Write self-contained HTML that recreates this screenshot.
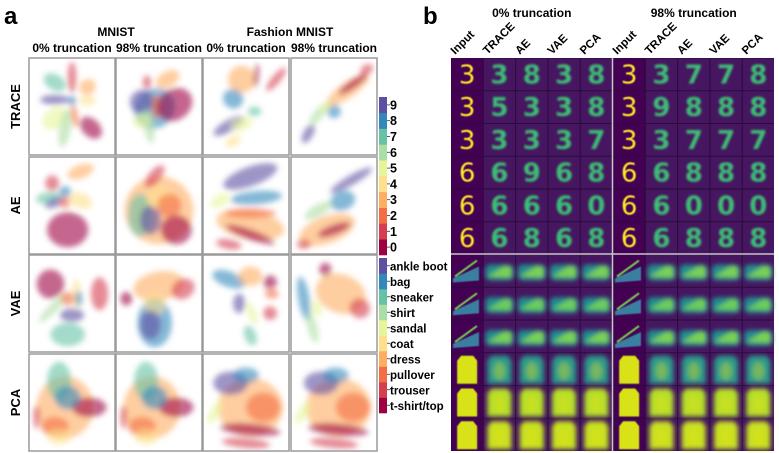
<!DOCTYPE html>
<html><head><meta charset="utf-8"><style>
html,body{margin:0;padding:0;background:#fff;}
svg{display:block;font-family:"Liberation Sans",Arial,sans-serif;}
</style></head><body>
<svg id="fig" width="779" height="453" viewBox="0 0 779 453">
<defs>
<filter id="bl" x="-50%" y="-50%" width="200%" height="200%"><feGaussianBlur stdDeviation="3"/></filter>
<filter id="bl2" x="-50%" y="-50%" width="200%" height="200%"><feGaussianBlur stdDeviation="1.1"/></filter>
<filter id="bl3" x="-50%" y="-50%" width="200%" height="200%"><feGaussianBlur stdDeviation="2.5"/></filter>
<filter id="bl1" x="-50%" y="-50%" width="200%" height="200%"><feGaussianBlur stdDeviation="0.4"/></filter>
</defs>
<text x="4" y="24" font-size="24" font-weight="bold">a</text>
<text x="423" y="24" font-size="24" font-weight="bold">b</text>
<text x="116" y="36" font-size="12" font-weight="bold" text-anchor="middle">MNIST</text>
<text x="290" y="36" font-size="12" font-weight="bold" text-anchor="middle">Fashion MNIST</text>
<g id="panelA"></g>
<g id="panelB"></g>
</svg>
<script>
const NS='http://www.w3.org/2000/svg';
const spectral=['#9e0142','#d53e4f','#f46d43','#fdae61','#fee08b','#e6f598','#abdda4','#66c2a5','#3288bd','#5e4fa2'];
const colHeaders=['0% truncation','98% truncation','0% truncation','98% truncation'];
const rowHeaders=['TRACE','AE','VAE','PCA'];
const digitLabels=['0','1','2','3','4','5','6','7','8','9'];
const fashionLabels=['t-shirt/top','trouser','pullover','dress','coat','sandal','shirt','sneaker','bag','ankle boot'];
// clusters per panel: [cx, cy, rx, ry, angleDeg, classIndex] in normalized cell units
const clustersTRACE=[
 [[.3,.25,.14,.08,30,7],[.3,.62,.16,.1,-40,5],[.42,.72,.07,.2,10,6],[.68,.3,.1,.08,-30,3],[.68,.44,.1,.05,0,4],[.3,.43,.17,.05,0,9],[.5,.2,.05,.16,0,1],[.53,.6,.04,.12,-10,2],[.72,.72,.15,.09,45,0],[.5,.44,.05,.05,0,8]],
 [[.45,.52,.25,.2,-35,8],[.3,.45,.14,.12,-30,9],[.38,.7,.06,.18,-10,6],[.3,.65,.1,.08,0,5],[.6,.22,.15,.08,-30,3],[.36,.25,.05,.07,0,1],[.47,.5,.06,.12,0,2],[.68,.48,.22,.16,-35,0]],
 [[.45,.22,.16,.14,0,3],[.62,.18,.03,.12,5,0],[.85,.22,.05,.15,40,1],[.35,.42,.12,.1,30,8],[.6,.55,.08,.05,0,7],[.3,.7,.2,.06,-30,9],[.45,.68,.13,.07,-20,5],[.35,.86,.1,.05,-30,4]],
 [[.66,.33,.3,.08,-35,3],[.72,.27,.2,.04,-35,0],[.88,.12,.08,.05,-35,1],[.5,.55,.08,.07,0,8],[.32,.58,.15,.05,-50,6],[.2,.78,.12,.05,-60,9],[.4,.5,.08,.04,-40,5]]
];
const clustersAE=[
 [[.27,.27,.08,.08,0,1],[.6,.15,.16,.07,-20,3],[.22,.42,.14,.06,-10,7],[.3,.47,.12,.05,-20,9],[.42,.36,.07,.06,0,8],[.42,.47,.06,.06,0,2],[.6,.45,.14,.08,20,4],[.45,.75,.24,.18,0,0]],
 [[.5,.55,.4,.35,0,3],[.28,.6,.14,.22,0,7],[.4,.65,.12,.15,0,9],[.5,.42,.15,.12,0,4],[.7,.75,.18,.15,0,0],[.45,.2,.07,.14,40,1],[.62,.5,.14,.12,0,2]],
 [[.55,.2,.33,.1,-20,9],[.2,.45,.12,.06,-30,5],[.62,.42,.3,.07,-5,8],[.55,.7,.4,.15,10,3],[.55,.8,.3,.05,20,0],[.3,.9,.15,.05,10,1],[.55,.58,.3,.05,0,2]],
 [[.7,.24,.28,.05,-30,9],[.6,.45,.15,.1,-20,8],[.32,.55,.18,.06,-30,6],[.42,.75,.34,.14,-20,3],[.15,.9,.08,.05,0,1],[.5,.75,.2,.05,-20,0]]
];
const clustersVAE=[
 [[.25,.3,.16,.15,0,0],[.82,.4,.1,.17,0,1],[.28,.55,.05,.2,45,6],[.55,.4,.05,.15,0,4],[.45,.45,.08,.07,0,2],[.58,.45,.04,.08,0,8],[.5,.62,.14,.07,0,9],[.45,.82,.2,.12,0,7]],
 [[.5,.32,.3,.15,-10,3],[.78,.35,.14,.1,-30,1],[.12,.45,.07,.07,0,0],[.45,.7,.2,.25,0,8],[.45,.5,.12,.12,0,4],[.4,.72,.12,.15,0,9]],
 [[.3,.25,.2,.08,20,8],[.55,.22,.14,.1,0,3],[.78,.28,.08,.07,0,0],[.8,.4,.08,.05,0,2],[.78,.6,.08,.07,30,1],[.42,.5,.07,.1,0,9],[.57,.6,.05,.12,-20,5],[.55,.83,.12,.06,70,7]],
 [[.15,.45,.26,.06,80,8],[.4,.15,.07,.07,0,0],[.58,.4,.3,.2,20,3],[.8,.55,.12,.1,20,1],[.25,.75,.18,.05,75,6],[.3,.55,.1,.05,70,5]]
];
const clustersPCA=[
 [[.42,.55,.33,.32,0,3],[.35,.28,.14,.2,0,7],[.7,.55,.2,.1,0,0],[.09,.65,.04,.12,0,1],[.3,.75,.16,.1,0,2],[.35,.85,.14,.08,0,4],[.45,.45,.15,.12,0,8]],
 [[.42,.55,.33,.32,0,3],[.35,.28,.14,.2,0,7],[.7,.55,.2,.1,0,0],[.09,.65,.04,.12,0,1],[.3,.75,.16,.1,0,2],[.35,.85,.14,.08,0,4],[.45,.45,.15,.12,0,8]],
 [[.55,.55,.38,.3,0,3],[.32,.3,.2,.12,0,9],[.5,.22,.15,.08,0,8],[.14,.6,.15,.05,-60,5],[.55,.78,.35,.06,5,0],[.5,.92,.28,.05,5,1],[.7,.55,.2,.15,0,2]],
 [[.55,.55,.38,.3,0,3],[.35,.3,.2,.12,0,9],[.52,.22,.15,.08,0,8],[.14,.6,.15,.05,-60,5],[.55,.78,.35,.06,5,0],[.5,.92,.28,.05,5,1],[.72,.55,.2,.15,0,2]]
];
const allClusters=[clustersTRACE,clustersAE,clustersVAE,clustersPCA];
const digitInputs=['3','3','3','6','6','6'];
const recon0=[['3','8','3','8'],['5','3','3','8'],['3','3','3','7'],['6','9','6','8'],['6','6','6','0'],['6','8','6','8']];
const recon98=[['3','3','7','7','8'],['3','9','8','8','8'],['3','3','7','7','7'],['6','6','8','8','8'],['6','6','0','0','0'],['6','6','8','8','8']];
const bColHeaders=['Input','TRACE','AE','VAE','PCA'];
const fashionRowTypes=['shoe','shoe','shoe','shirt','shirt','shirt'];
const fashionRowColors=['#7ad151','#6ccd5a','#7ad151','#2a9a8a','#b5de2b','#c8e020'];

function el(tag,attrs,parent){const e=document.createElementNS(NS,tag);for(const k in attrs)e.setAttribute(k,attrs[k]);if(parent)parent.appendChild(e);return e;}
const A=document.getElementById('panelA');
const colX=[29,116,203,291], colW=86, rowY=[58,157,255,354], rowH=97;
colHeaders.forEach((t,i)=>{const e=el('text',{x:colX[i]+colW/2,y:52,'font-size':12,'font-weight':'bold','text-anchor':'middle'},A);e.textContent=t;

});
rowHeaders.forEach((t,r)=>{const cy=rowY[r]+rowH/2;const e=el('text',{x:0,y:0,'font-size':13,'font-weight':'bold','text-anchor':'middle',transform:`translate(20,${cy}) rotate(-90)`},A);e.textContent=t;

});
for(let r=0;r<4;r++)for(let c=0;c<4;c++){
 const g=el('g',{},A);
 
 
 const x0=colX[c],y0=rowY[r];
 el('rect',{x:x0,y:y0,width:colW,height:rowH,fill:'#fff',stroke:'#9a9a9a','stroke-width':1.5},g);
 const clip='c'+r+c;const cp=el('clipPath',{id:clip},g);el('rect',{x:x0+1,y:y0+1,width:colW-2,height:rowH-2},cp);
 const outer=el('g',{'clip-path':`url(#${clip})`},g);
 const cg=el('g',{filter:'url(#bl)'},outer);
 allClusters[r][c].forEach(k=>{const cx=x0+k[0]*colW,cy=y0+k[1]*rowH;
  const e=el('ellipse',{cx:cx,cy:cy,rx:k[2]*colW,ry:k[3]*rowH,fill:spectral[k[5]],'fill-opacity':0.6,transform:`rotate(${k[4]} ${cx} ${cy})`},cg);
  
  });
}
function colorbar(y0,h,labels,name,fs){
 const g=el('g',{},A);
 const n=labels.length,s=h/n;
 labels.forEach((t,i)=>{const yy=y0+h-(i+1)*s;el('rect',{x:379,y:yy,width:8,height:s+0.3,fill:spectral[i]},g);
  el('line',{x1:387,x2:390,y1:yy+s/2,y2:yy+s/2,stroke:'#333','stroke-width':0.8},g);
  const e=el('text',{x:390,y:yy+s/2+4.5,'font-size':fs,'font-weight':'bold'},g);e.textContent=t;
  });
}
colorbar(97,158,digitLabels,'digit-colorbar',12.5);
colorbar(258,155,fashionLabels,'fashion-colorbar',11.5);

const B=document.getElementById('panelB');
const bx=[451,613], bw=32.3, by=58, bh=32.75;
['0% truncation','98% truncation'].forEach((t,i)=>{const e=el('text',{x:bx[i]+bw*2.5,y:17,'font-size':12,'font-weight':'bold','text-anchor':'middle'},B);e.textContent=t;
});
for(let h=0;h<2;h++)bColHeaders.forEach((t,i)=>{const cx=bx[h]+bw*i+bw/2;const e=el('text',{x:0,y:0,'font-size':11.5,'font-weight':'bold','text-anchor':'start',transform:`translate(${cx-12},${by-3}) rotate(-45)`},B);e.textContent=t;
});
el('rect',{x:451,y:58,width:323,height:393,fill:'#2b0a3d'},B);
for(let r=0;r<12;r++)for(let h=0;h<2;h++)for(let c=0;c<5;c++){
 const x=bx[h]+c*bw,y=by+r*bh;const inp=c===0;
 const bg=el('rect',{x:x+0.5,y:y+0.5,width:bw-1,height:bh-1,fill:inp?'#440154':'#461660'},B);
 
 if(r<6){
  const ch=inp?digitInputs[r]:(h===0?recon0[r][c-1]:recon98[r][c]);
  const t=el('text',{x:x+bw/2,y:y+bh/2+9,'font-size':26,'text-anchor':'middle','font-family':'"DejaVu Sans","Liberation Sans",sans-serif','font-weight':inp?'normal':'bold',fill:inp?'#fde725':'#3dbc74',filter:inp?'url(#bl1)':'url(#bl2)'},B);
  t.textContent=ch;
  
 } else {
  const fr=r-6,type=fashionRowTypes[fr];
  const g=el('g',{filter:inp?'url(#bl1)':'url(#bl3)'},B);
  
  if(type==='shoe'){
   if(inp){el('path',{d:`M${x+2} ${y+24} L${x+28} ${y+12} L${x+28} ${y+26} L${x+2} ${y+28}Z`,fill:'#3a7fa0'},g);
    el('path',{d:`M${x+4} ${y+22} L${x+26} ${y+6}`,stroke:'#7ad151','stroke-width':2,fill:'none'},g);}
   else{el('rect',{x:x+2,y:y+10,width:bw-4,height:16,rx:5,fill:'#228c8d'},g);
    el('path',{d:`M${x+4} ${y+22} Q${x+14} ${y+16} ${x+22} ${y+11} L${x+28} ${y+13} L${x+28} ${y+23} Z`,fill:fashionRowColors[fr]},g);}
  } else {
   const col=inp?(fr===0?'#2f6fa0':'#d8e219'):fashionRowColors[fr];
   const w=inp?20:24,x1=x+(bw-w)/2;
   el('path',{d:`M${x1+4} ${y+3} L${x1+w-4} ${y+3} L${x1+w} ${y+8} L${x1+w} ${y+31} L${x1} ${y+31} L${x1} ${y+8}Z`,fill:col},g);
   if(!inp)el('ellipse',{cx:x+bw/2,cy:y+bh/2+2,rx:6,ry:9,fill:'#e3e418','fill-opacity':fr===0?0.6:0.4},g);
  }
 }
}
el('line',{x1:612.5,x2:612.5,y1:58,y2:451,stroke:'#c8c8c8','stroke-width':1.5},B);
el('line',{x1:451,x2:774,y1:254,y2:254,stroke:'#c8c8c8','stroke-width':1.5},B);
</script>
</body></html>
